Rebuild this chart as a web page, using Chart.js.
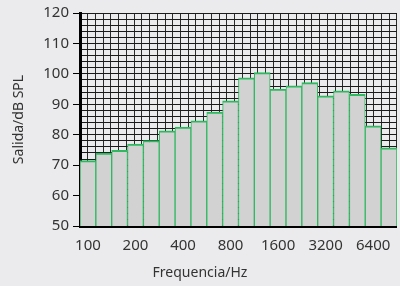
<!DOCTYPE html>
<html>
<head>
<meta charset="utf-8">
<script src="https://cdn.jsdelivr.net/npm/chart.js@4/dist/chart.umd.min.js"></script>
<style>
  html, body { margin: 0; padding: 0; background: #ebebed; }
  #wrap { width: 400px; height: 286px; position: relative; }
</style>
</head>
<body>
<div id="wrap"><canvas id="c" width="400" height="286"></canvas></div>
<script>
// Third-octave band centre frequencies (Hz)
const categories = ['100','125','160','200','250','315','400','500','630','800','1000','1250','1600','2000','2500','3150','4000','5000','6300','8000'];
// Output level (dB SPL) per band
const outputLevels = [71.5, 74.0, 74.9, 76.9, 78.1, 81.3, 82.5, 84.6, 87.4, 91.1, 98.7, 100.4, 95.0, 96.1, 97.1, 92.8, 94.4, 93.3, 82.9, 75.7];
// Labels shown under the x axis
const xTickLabels = ['100','','','200','','','400','','','800','','','1600','','','3200','','','6400',''];
// Y axis range and ticks
const yMin = 50, yMax = 120, yStep = 10, yGridStep = 2;

const FONT = '"Noto Sans", "DejaVu Sans", sans-serif';
const TXT = '#333333';

new Chart(document.getElementById('c'), {
  type: 'bar',
  data: {
    labels: categories,
    datasets: [{
      data: outputLevels,
      backgroundColor: '#d1d2d1',
      borderColor: '#2eb85f',
      borderWidth: {top: 2, left: 1, right: 1, bottom: 0},
      borderSkipped: false,
      barPercentage: 1,
      categoryPercentage: 1
    }]
  },
  options: {
    responsive: false,
    animation: false,
    devicePixelRatio: 1,
    layout: { padding: { top: 13, left: 0, right: 0, bottom: 0 } },
    plugins: {
      legend: { display: false },
      tooltip: { enabled: false },
      title: {
        display: true,
        position: 'bottom',
        text: 'Frequencia/Hz',
        color: TXT,
        font: { family: FONT, size: 14, weight: 'normal' },
        padding: { top: 0, bottom: 5 }
      }
    },
    scales: {
      x: {
        type: 'category',
        offset: true,
        grid: { display: false, drawTicks: false },
        border: { display: true, color: '#000', width: 3 },
        ticks: {
          autoSkip: false,
          maxRotation: 0,
          padding: 11,
          color: TXT,
          font: { family: FONT, size: 15 },
          callback: (v, i) => xTickLabels[i]
        },
        afterFit: s => { s.height = 38.2; }
      },
      xg: {
        type: 'linear',
        position: 'bottom',
        min: 0, max: categories.length * 2,
        ticks: { display: false, stepSize: 1 },
        grid: { color: '#2a2a2a', lineWidth: 1, drawTicks: false },
        border: { display: false },
        afterFit: s => { s.height = 0; }
      },
      y: {
        type: 'linear',
        position: 'left',
        min: yMin, max: yMax,
        ticks: { stepSize: yStep, padding: 4, color: TXT, font: { family: FONT, size: 15 } },
        grid: { display: true, drawOnChartArea: false, drawTicks: true, tickLength: 7, color: '#000' },
        border: { display: true, color: '#000', width: 3 },
        title: {
          display: true,
          text: 'Salida/dB SPL',
          color: TXT,
          font: { family: FONT, size: 14 },
          padding: { top: 11, bottom: 0 }
        },
        afterFit: s => { s.width = 80; }
      },
      yg: {
        type: 'linear',
        position: 'left',
        min: yMin, max: yMax,
        ticks: { display: false, stepSize: yGridStep },
        grid: { color: '#1a1a1a', lineWidth: 1, drawTicks: false },
        border: { display: false },
        afterFit: s => { s.width = 0; }
      }
    }
  }
});
</script>
</body>
</html>
